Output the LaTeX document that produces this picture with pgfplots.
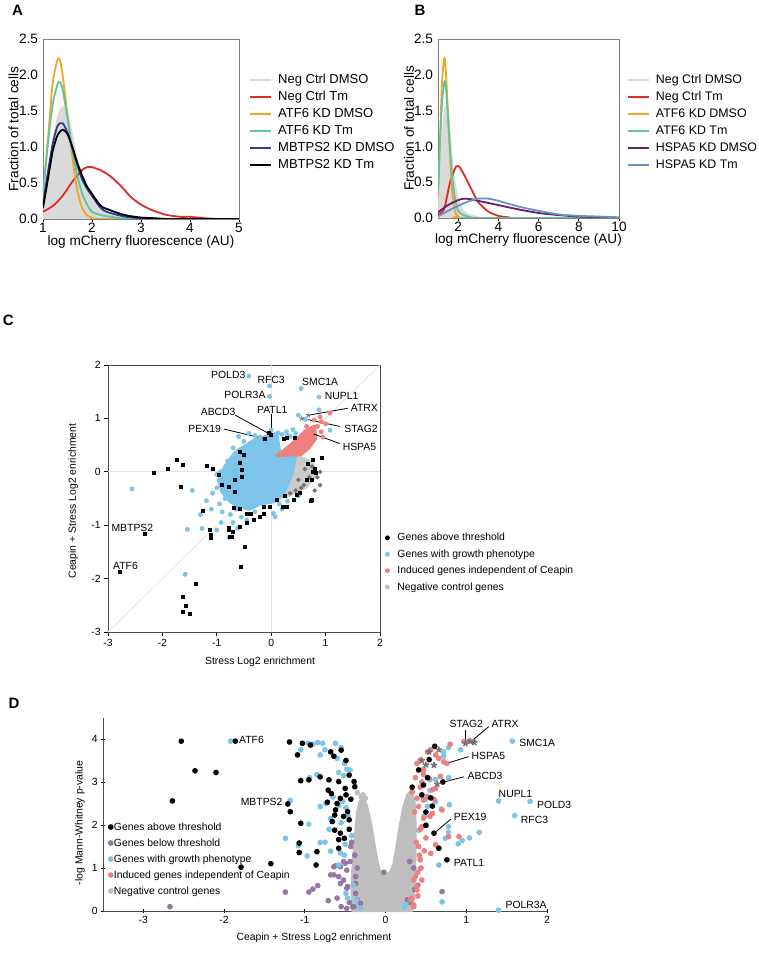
\documentclass[border=0pt]{standalone}
\usepackage{fontspec}
\setmainfont{Liberation Sans}
\usepackage{pgfplots}
\pgfplotsset{compat=1.18}

\definecolor{ncgrey}{RGB}{218,218,218}
\definecolor{cred}{RGB}{222,45,38}
\definecolor{corange}{RGB}{243,165,35}
\definecolor{cgreen}{RGB}{95,196,160}
\definecolor{cnavy}{RGB}{45,60,150}
\definecolor{cpurple}{RGB}{100,30,110}
\definecolor{csteel}{RGB}{105,145,205}
\definecolor{cblue}{RGB}{125,196,235}
\definecolor{cpink}{RGB}{238,128,128}
\definecolor{cgrey}{RGB}{190,190,190}
\definecolor{cdgrey}{RGB}{115,115,115}
\definecolor{cviolet}{RGB}{150,118,165}

\newcommand{\fa}{\fontsize{6.8}{8}\selectfont}
\newcommand{\fl}{\fontsize{6.5}{8}\selectfont}
\newcommand{\fc}{\fontsize{5.2}{6.2}\selectfont}

\pgfplotsset{
  every axis/.append style={
    scale only axis,
    /pgf/number format/assume math mode=true,
    tick align=outside, tick pos=left, major tick length=2pt,
    tick style={black, thin},
  },
  hist/.style={
    ymin=0, ymax=2.5,
    ytick={0,0.5,1,1.5,2,2.5}, yticklabels={0.0,0.5,1.0,1.5,2.0,2.5},
    ytick style={draw=none},
    major tick length=1.5pt,
    axis line style={gray},
    tick label style={font=\fa},
    yticklabel style={inner sep=0.8pt},
    xticklabel style={inner sep=0.5pt},
    label style={font=\fa},
    xlabel={log mCherry fluorescence (AU)},
    ylabel={Fraction of total cells},
    xlabel style={at={(axis description cs:0.5,-0.125)}, anchor=center},
    legend style={anchor=north west, draw=none, fill=none, font=\fl,
      inner sep=0pt, outer sep=0pt, column sep=2.2pt,
      row sep=0.6pt, nodes={inner sep=0.8pt, text height=4.9pt, text depth=1.4pt}},
    legend cell align=left,
    legend image code/.code={\draw[#1,fill=none] (0pt,0pt) -- (10.5pt,0pt);},
  },
  dens/.style={line width=0.9pt, smooth, tension=0.4},
}

\begin{document}
\begin{tikzpicture}
\path[use as bounding box] (0pt,0pt) rectangle (379.5pt,479.5pt);

\node[font=\bfseries\fontsize{7.5}{8}\selectfont] at (8.75pt,474.25pt) {A};
\node[font=\bfseries\fontsize{7.5}{8}\selectfont] at (210pt,474.25pt) {B};
\node[font=\bfseries\fontsize{7.5}{8}\selectfont] at (4.2pt,319.5pt) {C};
\node[font=\bfseries\fontsize{7.5}{8}\selectfont] at (7pt,128pt) {D};

% ---------------- A
\begin{axis}[hist,
  at={(21.5pt,370pt)}, anchor=south west, width=98pt, height=90pt,
  xmin=1, xmax=5, xtick={1,2,3,4,5},
  ylabel style={at={(axis description cs:-0.15,0.5)}, anchor=center},
  legend style={at={(1.053,0.814)}},
]
\addplot[dens, draw=ncgrey, fill=ncgrey] coordinates {(1,0.25) (1.1,0.6) (1.2,1.05) (1.3,1.4) (1.4,1.55) (1.5,1.45) (1.6,1.15) (1.7,0.8) (1.8,0.55) (1.9,0.38) (2.0,0.25) (2.2,0.12) (2.5,0.05) (3,0.01) (3.5,0) (5,0)} \closedcycle;
\addlegendentry{Neg Ctrl DMSO}
\addplot[dens, cred] coordinates {(1,0.1) (1.2,0.18) (1.4,0.32) (1.6,0.52) (1.8,0.68) (1.9,0.72) (2.0,0.72) (2.2,0.67) (2.4,0.58) (2.6,0.45) (2.8,0.3) (3.0,0.2) (3.2,0.13) (3.5,0.06) (3.8,0.03) (4.0,0.03) (4.3,0.01) (4.6,0) (5,0)};
\addlegendentry{Neg Ctrl Tm}
\addplot[dens, corange] coordinates {(1,0.3) (1.1,1.1) (1.2,1.9) (1.3,2.22) (1.35,2.2) (1.4,2.0) (1.5,1.45) (1.6,0.85) (1.7,0.4) (1.8,0.15) (1.9,0.05) (2.0,0.02) (2.2,0) (5,0)};
\addlegendentry{ATF6 KD DMSO}
\addplot[dens, cgreen] coordinates {(1,0.35) (1.1,1.05) (1.2,1.6) (1.3,1.88) (1.35,1.9) (1.4,1.8) (1.5,1.4) (1.6,0.95) (1.7,0.6) (1.8,0.35) (1.9,0.2) (2.0,0.1) (2.2,0.05) (2.4,0.03) (2.6,0.01) (2.9,0) (5,0)};
\addlegendentry{ATF6 KD Tm}
\addplot[dens, cnavy] coordinates {(1,0.2) (1.1,0.65) (1.2,1.05) (1.3,1.3) (1.4,1.33) (1.5,1.2) (1.6,0.98) (1.7,0.75) (1.8,0.55) (1.9,0.42) (2.0,0.32) (2.1,0.22) (2.2,0.14) (2.3,0.1) (2.5,0.06) (2.7,0.03) (3.0,0.01) (3.3,0) (5,0)};
\addlegendentry{MBTPS2 KD DMSO}
\addplot[dens, black] coordinates {(1,0.15) (1.1,0.55) (1.2,0.95) (1.3,1.17) (1.4,1.24) (1.5,1.18) (1.6,1.0) (1.7,0.78) (1.8,0.6) (1.9,0.45) (2.0,0.35) (2.1,0.25) (2.2,0.17) (2.3,0.14) (2.5,0.09) (2.7,0.05) (3.0,0.02) (3.3,0.01) (3.6,0) (5,0)};
\addlegendentry{MBTPS2 KD Tm}
\end{axis}

% ---------------- B
\begin{axis}[hist,
  at={(219pt,370.5pt)}, anchor=south west, width=90.5pt, height=89.5pt,
  xmin=1, xmax=10, xtick={2,4,6,8,10},
  ylabel style={at={(axis description cs:-0.16,0.5)}, anchor=center},
  legend style={at={(1.045,0.813)}, font=\fontsize{6.2}{7.5}\selectfont},
]
\addplot[dens, draw=ncgrey, fill=ncgrey] coordinates {(1,0.25) (1.1,0.6) (1.2,1.05) (1.3,1.4) (1.4,1.55) (1.5,1.45) (1.6,1.15) (1.7,0.8) (1.8,0.55) (1.9,0.38) (2.0,0.25) (2.2,0.12) (2.5,0.05) (3,0.01) (3.5,0) (10,0)} \closedcycle;
\addlegendentry{Neg Ctrl DMSO}
\addplot[dens, cred] coordinates {(1,0.05) (1.3,0.12) (1.6,0.5) (1.9,0.72) (2.1,0.7) (2.4,0.55) (2.7,0.38) (3.0,0.22) (3.5,0.09) (4.0,0.03) (4.5,0.01) (5,0) (10,0)};
\addlegendentry{Neg Ctrl Tm}
\addplot[dens, corange] coordinates {(1,0.3) (1.1,1.1) (1.2,1.9) (1.3,2.22) (1.35,2.2) (1.4,2.0) (1.5,1.45) (1.6,0.85) (1.7,0.4) (1.8,0.15) (1.9,0.05) (2.0,0.02) (2.2,0) (10,0)};
\addlegendentry{ATF6 KD DMSO}
\addplot[dens, cgreen] coordinates {(1,0.35) (1.1,1.05) (1.2,1.6) (1.3,1.88) (1.35,1.9) (1.4,1.8) (1.5,1.4) (1.6,0.95) (1.7,0.6) (1.8,0.35) (1.9,0.2) (2.0,0.1) (2.2,0.05) (2.4,0.03) (2.6,0.01) (2.9,0) (10,0)};
\addlegendentry{ATF6 KD Tm}
\addplot[dens, cpurple] coordinates {(1,0.08) (1.5,0.18) (2,0.25) (2.3,0.27) (2.7,0.26) (3,0.24) (4,0.18) (5,0.12) (6,0.07) (7,0.04) (8,0.02) (9,0.01) (10,0)};
\addlegendentry{HSPA5 KD DMSO}
\addplot[dens, csteel] coordinates {(1,0.02) (1.5,0.1) (2,0.17) (2.5,0.23) (3,0.27) (3.5,0.27) (4,0.24) (5,0.16) (6,0.1) (7,0.05) (8,0.03) (9,0.02) (10,0.01)};
\addlegendentry{HSPA5 KD Tm}
\end{axis}

% ---------------- C
\begin{axis}[
  at={(54pt,163.5pt)}, anchor=south west, width=136pt, height=133.5pt,
  xmin=-3, xmax=2, ymin=-3, ymax=2,
  xtick={-3,-2,-1,0,1,2}, ytick={-3,-2,-1,0,1,2},
  axis line style={gray!60!black},
  tick label style={font=\fc, inner sep=1.5pt},
  label style={font=\fc},
  xlabel={Stress Log2 enrichment},
  ylabel={Ceapin + Stress Log2 enrichment},
  xlabel style={at={(axis description cs:0.559,-0.111)}, anchor=center},
  ylabel style={at={(axis description cs:-0.128,0.49)}, anchor=center},
  legend style={at={(1.02,0.378)}, anchor=north west, draw=none, fill=none, font=\fc,
    inner sep=0pt, outer sep=0pt, column sep=3.2pt,
    row sep=1.4pt, nodes={inner sep=0.8pt, text height=4.1pt, text depth=1.1pt}},
  legend cell align=left,
  legend image code/.code={\draw[mark repeat=2,mark phase=2,#1] plot coordinates {(-2pt,0pt) (0pt,0pt) (2pt,0pt)};},
  clip=false,
]
\addplot[gray!22, forget plot] coordinates {(-3,-3) (2,2)};
\addplot[gray!22, forget plot] coordinates {(0,-3) (0,2)};
\addplot[gray!22, forget plot] coordinates {(-3,0) (2,0)};
% dense clouds
\addplot[fill=cblue, draw=cblue, line width=1.6pt, line join=round, forget plot] coordinates {
(-0.85,0.1) (-0.65,0.38) (-0.45,0.5) (-0.3,0.6) (-0.1,0.66) (0.1,0.72) (0.16,0.35) (0.53,0.31) (0.5,0.16) (0.45,0.0) (0.38,-0.22) (0.24,-0.42) (0.05,-0.56) (-0.2,-0.6) (-0.4,-0.7) (-0.6,-0.65) (-0.75,-0.56) (-0.9,-0.38) (-0.97,-0.15)} -- cycle;
\addplot[fill=cgrey!80, draw=cgrey!80, line width=1.4pt, line join=round, forget plot] coordinates {
(0.5,0.28) (0.6,0.25) (0.77,0.16) (0.8,-0.09) (0.65,-0.28) (0.41,-0.4) (0.27,-0.47) (0.36,-0.25) (0.45,0.0)} -- cycle;
\addplot[fill=cpink, draw=cpink, line width=1.4pt, line join=round, forget plot] coordinates {
(0.1,0.3) (0.35,0.5) (0.62,0.76) (0.8,0.86) (0.82,0.62) (0.7,0.45) (0.55,0.32)} -- cycle;
% individual genes
\addplot[only marks, mark=*, mark size=1pt, cblue, forget plot] coordinates {
(-0.41,1.79) (-0.03,1.61) (-0.03,1.41) (0.55,1.56) (0.88,1.4) (0.88,1.16) (0.5,1.06) (0.63,0.98) (0.4,0.79) (1.08,0.78) (0.13,0.73) (0.35,0.66) (0.0,0.78) (0.2,0.7) (0.28,0.75) (0.45,0.72) (0.3,0.68)
(-0.6,0.66) (-0.41,0.72) (-0.5,0.57) (-0.7,0.45) (-0.3,0.68) (-0.2,0.65) (-0.8,0.2) (-0.93,0.0) (-0.88,-0.18) (-1.0,-0.05)
(-2.56,-0.32) (-1.54,-1.08) (-1.27,-1.06) (-1.45,-0.35) (-1.19,-0.54) (-1.0,-1.09) (-0.92,-0.95) (-0.77,-1.23) (-0.62,-1.06) (-1.08,-0.4) (-0.75,-0.8) (0.04,-0.78) (0.07,-0.84) (-1.58,-1.92) (-1.1,-0.7) (-0.95,-0.6) (-0.85,-0.5) (-1.0,-0.3) (-0.7,-0.95) (-0.55,-0.85) (-0.9,-0.75) (-1.3,-0.8) (-0.65,-0.7) (-0.45,-0.9) (-0.3,-0.75) (0.15,-0.6) (0.3,-0.55) (0.5,-0.45) (0.2,-0.7)};
\addplot[only marks, mark=*, mark size=0.9pt, cdgrey, forget plot] coordinates {
(0.6,-0.25) (0.7,-0.1) (0.55,-0.3) (0.85,-0.1) (0.9,-0.25) (0.8,-0.35) (0.45,-0.35) (0.35,-0.4) (0.75,0.1) (0.9,0.0) (0.62,0.05) (0.5,-0.15)};
\addplot[only marks, mark=square*, mark size=0.75pt, black, forget plot] coordinates {
(-1.74,0.23) (-1.63,0.13) (-2.15,-0.03) (-1.89,0.05) (-1.66,-0.29) (-1.19,0.11) (-1.08,0.05) (-1.26,-0.73) (-1.12,-1.08) (-1.11,-1.18) (-1.11,-1.24) (-0.78,-1.09) (-0.77,-1.05) (-0.72,-1.22) (-0.48,-1.41) (-0.55,-1.78) (-2.32,-1.17) (-2.78,-1.87) (-1.38,-2.1) (-1.63,-2.35) (-1.57,-2.51) (-1.63,-2.62) (-1.5,-2.67)
(0.65,-0.15) (0.77,0.0) (0.83,-0.03) (0.74,-0.53) (0.47,-0.43) (0.29,-0.65) (0.1,-0.53) (-0.14,-0.65) (-0.2,-0.84) (-0.38,-0.78) (-0.44,-0.96) (-0.57,-1.03) (-0.75,-1.22) (-0.71,-1.13)
(0.29,0.63) (0.23,0.62) (0.44,0.63) (0.77,0.22) (0.8,0.05) (0.67,0.14) (-0.57,0.38) (-0.5,0.32) (-0.57,0.16) (-0.54,0.03) (-0.66,-0.15) (-0.54,-0.1)
(0.73,-0.55) (0.93,0.26) (0.74,-0.15) (0.26,-0.45) (0.41,-0.53) (0.52,-0.4) (0.22,-0.65) (-0.02,-0.65) (-0.14,-0.78) (-0.32,-0.9) (-0.44,-0.78) (-0.57,-0.7) (-0.69,-0.68) (-0.96,-0.06) (-0.9,-0.25) (-0.78,-0.29) (-0.66,-0.37)
(-0.05,0.72) (0.0,0.7) (-0.11,0.61)};
\addplot[only marks, mark=*, mark size=1pt, cpink, forget plot] coordinates {
(1.08,1.1) (0.9,1.03) (0.92,0.94) (0.79,0.97) (0.92,0.75) (0.72,0.66) (0.6,0.6) (0.74,0.72) (0.85,0.85) (1.0,0.9) (0.95,0.65) (0.65,0.85) (0.4,0.45) (0.3,0.4) (0.2,0.35)};
\addplot[only marks, mark=star, mark size=1.3pt, cdgrey, forget plot] coordinates {(0.68,1.06) (0.56,1.0)};
\addlegendimage{only marks, mark=*, mark size=1pt, black}
\addlegendentry{Genes above threshold}
\addlegendimage{only marks, mark=*, mark size=1pt, cblue}
\addlegendentry{Genes with growth phenotype}
\addlegendimage{only marks, mark=*, mark size=1pt, cpink}
\addlegendentry{Induced genes independent of Ceapin}
\addlegendimage{only marks, mark=*, mark size=1pt, cgrey}
\addlegendentry{Negative control genes}
% labels
\begin{scope}[font=\fc, inner sep=0.5pt]
\node[anchor=east] at (axis cs:-0.45,1.81) {POLD3};
\node at (axis cs:0.0,1.72) {RFC3};
\node[anchor=east] at (axis cs:-0.08,1.44) {POLR3A};
\node at (axis cs:0.9,1.69) {SMC1A};
\node[anchor=west] at (axis cs:0.96,1.42) {NUPL1};
\node[anchor=west] at (axis cs:1.44,1.19) {ATRX};
\node[anchor=west] at (axis cs:1.32,0.81) {STAG2};
\node[anchor=west] at (axis cs:1.29,0.47) {HSPA5};
\node[anchor=east] at (axis cs:-0.63,1.13) {ABCD3};
\node at (axis cs:0.02,1.16) {PATL1};
\node[anchor=east] at (axis cs:-0.9,0.81) {PEX19};
\node[anchor=west] at (axis cs:-2.96,-1.06) {MBTPS2};
\node[anchor=west] at (axis cs:-2.93,-1.76) {ATF6};
\end{scope}
\draw[black, thin] (axis cs:1.41,1.19) -- (axis cs:0.69,1.06);
\draw[black, thin] (axis cs:1.26,0.85) -- (axis cs:0.57,1.0);
\draw[black, thin] (axis cs:1.26,0.53) -- (axis cs:0.75,0.72);
\draw[black, thin] (axis cs:-0.66,1.06) -- (axis cs:-0.05,0.72);
\draw[black, thin] (axis cs:0.0,1.08) -- (axis cs:0.0,0.72);
\draw[black, thin] (axis cs:-0.87,0.8) -- (axis cs:-0.12,0.62);
\end{axis}

% ---------------- D
\begin{axis}[
  at={(51.5pt,24pt)}, anchor=south west, width=222pt, height=96.75pt,
  xmin=-3.5, xmax=2, ymin=0, ymax=4.5,
  xtick={-3,-2,-1,0,1,2}, ytick={0,1,2,3,4},
  axis lines=left, axis line style={-, gray!60!black},
  tick label style={font=\fc, inner sep=1.5pt},
  label style={font=\fc},
  xlabel={Ceapin + Stress Log2 enrichment},
  ylabel={-log Mann-Whitney p-value},
  xlabel style={at={(axis description cs:0.475,-0.14)}, anchor=center},
  ylabel style={at={(axis description cs:-0.052,0.455)}, anchor=center},
  legend style={at={(0.012,0.465)}, anchor=north west, draw=none, fill=none, font=\fc,
    inner sep=0pt, outer sep=0pt, column sep=0pt,
    row sep=2pt, nodes={inner sep=0.4pt, text height=4.1pt, text depth=1.1pt}},
  legend cell align=left,
  legend image code/.code={\draw[mark repeat=2,mark phase=2,#1] plot coordinates {(-1.3pt,0pt) (0pt,0pt) (1.3pt,0pt)};},
  clip=false,
]
\addplot[only marks, mark=*, mark size=1.2pt, cviolet, forget plot] coordinates {
(-2.67,0.1) (-1.24,0.44) (-0.95,0.44) (-0.9,0.51) (-0.84,0.59) (-0.71,0.24) (-0.62,1.05) (-0.64,0.84) (-0.58,0.8) (-0.52,0.72) (-0.48,0.95) (-0.44,1.15) (-0.52,1.15) (-0.37,0.8) (-0.37,0.64) (-0.56,0.64) (-0.48,0.53) (-0.37,0.41) (-0.35,0.26) (-0.48,0.06) (-0.41,0.1) (-0.31,0.18) (-0.68,0.84) (-0.56,1.03) (-0.64,1.03) (-0.5,1.11) (-0.43,1.5) (-0.47,0.57) (-0.39,0.1) (0.27,0.26) (0.3,0.2) (0.36,0.5) (0.4,0.6) (-0.45,0.2) (-0.55,0.1) (-0.6,0.3) (-0.38,1.3) (-0.42,1.6) (-0.35,1.0) (0.7,0.45) (0.35,1.0) (-0.02,0.9) (0.3,1.15)};
\addplot[fill=cgrey, draw=cgrey, line width=1.2pt, line join=round, forget plot] coordinates {
(-0.41,0) (-0.42,0.5) (-0.41,0.95) (-0.39,1.5) (-0.37,1.9) (-0.35,2.3) (-0.32,2.55) (-0.28,2.6) (-0.24,2.5) (-0.2,2.2) (-0.16,1.8) (-0.12,1.35) (-0.08,0.97) (-0.04,0.87) (0.0,0.85) (0.06,0.9) (0.1,1.1) (0.13,1.4) (0.17,1.9) (0.22,2.4) (0.27,2.7) (0.32,2.8) (0.36,2.5) (0.37,2.0) (0.37,1.3) (0.36,0.7) (0.34,0.2) (0.33,0)} -- cycle;
\addplot[only marks, mark=*, mark size=1.2pt, cgrey, forget plot] coordinates {(-0.3,2.65) (-0.25,2.62) (-0.35,2.75) (-0.28,2.7)};
\addplot[only marks, mark=*, mark size=1.2pt, cblue, forget plot] coordinates {
(-1.92,3.95) (-1.24,1.69) (-1.08,1.52) (-1.18,2.57) (-0.97,1.28) (-0.95,2.02) (-1.05,3.75) (-0.96,3.9) (-0.9,3.88) (-0.84,3.92) (-0.78,3.9) (-0.81,3.63) (-0.94,3.1) (-0.85,3.17) (-0.81,2.43) (-0.74,2.5) (-0.81,1.59) (-0.75,1.6) (-0.68,1.39) (-0.56,1.35) (-0.58,1.07) (-0.51,1.3) (-0.62,3.9) (-0.55,3.8) (-0.51,3.43) (-0.48,3.3) (-0.44,3.28) (-0.58,3.22) (-0.52,3.15) (-0.65,2.65) (-0.58,2.45) (-0.53,2.55) (-0.49,2.4) (-0.46,2.2) (-0.55,2.05) (-0.68,2.15) (-0.7,1.9) (-0.49,0.41) (-0.47,0.3) (-0.31,0.07) (-0.42,1.75) (-0.5,1.55) (-0.6,3.55) (-0.75,3.75) (-0.4,0.6) (-0.36,0.25)
(1.57,3.95) (0.93,3.75) (0.78,3.8) (0.72,3.7) (0.72,3.6) (0.78,3.1) (0.62,3.06) (1.4,2.56) (1.79,2.55) (1.6,2.22) (0.79,2.47) (0.69,2.37) (0.62,2.54) (0.52,2.43) (0.78,1.96) (0.78,1.83) (0.74,1.69) (0.9,1.56) (0.95,1.64) (1.04,1.7) (1.16,1.83) (0.66,1.07) (0.7,0.21) (1.4,0.02) (0.43,0.99) (0.45,1.95) (0.41,1.88) (0.23,0.1) (0.25,0.15) (0.47,3.3) (0.55,3.05) (0.5,2.6) (0.48,2.2) (0.55,2.8)};
\addplot[only marks, mark=*, mark size=1.2pt, cpink, forget plot] coordinates {
(0.80,3.88) (0.97,3.94) (1.03,3.95) (1.09,3.94) (0.72,3.47) (0.76,3.43) (0.66,3.55) (0.68,3.13) (0.62,2.85) (0.58,2.82) (0.7,2.35) (0.58,2.27) (0.47,2.16) (0.45,1.96) (0.91,1.73) (0.78,1.73) (0.66,1.46) (0.62,1.54) (0.56,1.34) (0.43,1.19) (0.45,0.72) (0.39,0.49) (0.33,0.3) (0.35,0.72) (0.31,0.26) (0.35,0.1) (0.39,3.43) (0.43,2.88) (0.37,3.1) (0.47,3.18) (0.54,3.08) (0.52,2.66) (0.47,2.58) (0.62,3.63) (0.56,3.75) (0.43,3.51) (0.47,3.28) (0.41,2.43) (0.43,1.9) (0.41,1.5) (0.43,1.2) (0.37,0.8) (0.39,0.57) (0.35,0.14) (0.52,3.7) (0.33,2.77) (0.39,2.62) (0.5,1.7) (0.48,1.4) (0.44,1.0) (0.4,0.9) (0.38,1.6) (0.36,2.3) (0.4,0.35) (0.42,1.3) (0.5,2.0) (0.45,3.0) (0.6,2.6) (0.55,2.2)};
\addplot[only marks, mark=*, mark size=1.2pt, black, forget plot] coordinates {
(-2.53,3.95) (-2.36,3.26) (-2.10,3.22) (-2.64,2.56) (-1.86,3.95) (-1.79,1.02) (-1.42,1.1) (-1.19,3.93) (-1.21,2.49) (-1.18,2.31) (-1.09,3.63) (-1.05,3.03) (-1.05,2.04) (-1.07,1.58) (-1.07,1.36) (-0.85,1.38) (-0.86,1.07) (-0.95,3.05) (-0.93,3.86) (-1.03,3.9) (-0.81,3.12) (-0.68,3.7) (-0.64,3.6) (-0.70,3.05) (-0.71,2.81) (-0.67,2.73) (-0.72,2.53) (-0.63,2.23) (-0.66,2.08) (-0.63,1.88) (-0.56,1.81) (-0.58,1.66) (-0.51,1.69) (-0.58,1.46) (-0.55,3.74) (-0.49,3.5) (-0.45,3.16) (-0.39,3.01) (-0.38,2.89) (-0.58,3.01) (-0.5,2.85) (-0.56,2.62) (-0.49,2.7) (-0.47,2.31) (-0.45,2.12) (-0.6,2.5) (-0.52,2.2) (-0.43,2.6) (-0.45,1.9) (-0.62,2.35)
(0.61,3.83) (0.71,3.0) (0.6,1.81) (0.76,1.19) (0.66,1.46) (0.56,2.63) (0.58,2.44) (0.5,1.99) (0.41,3.28) (0.47,2.93) (0.33,2.88) (0.54,3.52) (0.52,3.1) (0.45,2.7) (0.5,2.3)};
\addplot[only marks, mark=star, mark size=1.6pt, thick, cdgrey, forget plot] coordinates {
(1.05,3.95) (0.99,3.9) (0.54,3.7) (0.66,3.75) (0.45,3.5) (0.6,3.39) (0.64,2.95) (1.1,3.92) (0.5,3.4)};
\addlegendimage{only marks, mark=*, mark size=1.2pt, black}
\addlegendentry{Genes above threshold}
\addlegendimage{only marks, mark=*, mark size=1.2pt, cviolet}
\addlegendentry{Genes below threshold}
\addlegendimage{only marks, mark=*, mark size=1.2pt, cblue}
\addlegendentry{Genes with growth phenotype}
\addlegendimage{only marks, mark=*, mark size=1.2pt, cpink}
\addlegendentry{Induced genes independent of Ceapin}
\addlegendimage{only marks, mark=*, mark size=1.2pt, cgrey}
\addlegendentry{Negative control genes}
\begin{scope}[font=\fc, inner sep=0.5pt]
\node[anchor=west] at (axis cs:-1.83,3.99) {ATF6};
\node[anchor=east] at (axis cs:-1.26,2.53) {MBTPS2};
\node at (axis cs:1.0,4.36) {STAG2};
\node at (axis cs:1.48,4.36) {ATRX};
\node[anchor=west] at (axis cs:1.64,3.92) {SMC1A};
\node[anchor=west] at (axis cs:1.05,3.6) {HSPA5};
\node[anchor=west] at (axis cs:1.0,3.14) {ABCD3};
\node at (axis cs:1.61,2.72) {NUPL1};
\node[anchor=west] at (axis cs:1.86,2.47) {POLD3};
\node[anchor=west] at (axis cs:1.66,2.12) {RFC3};
\node[anchor=west] at (axis cs:0.83,2.19) {PEX19};
\node[anchor=west] at (axis cs:0.83,1.11) {PATL1};
\node[anchor=west] at (axis cs:1.47,0.14) {POLR3A};
\end{scope}
\draw[black, thin] (axis cs:0.99,4.22) -- (axis cs:0.99,3.92);
\draw[black, thin] (axis cs:1.28,4.29) -- (axis cs:1.07,3.96);
\draw[black, thin] (axis cs:1.03,3.59) -- (axis cs:0.77,3.44);
\draw[black, thin] (axis cs:0.97,3.12) -- (axis cs:0.72,3.0);
\draw[black, thin] (axis cs:0.81,2.14) -- (axis cs:0.61,1.82);
\end{axis}
\end{tikzpicture}
\end{document}
